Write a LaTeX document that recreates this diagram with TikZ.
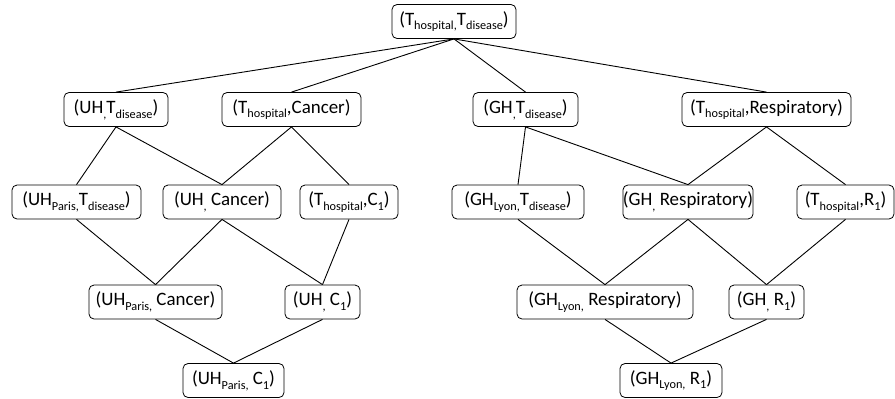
\documentclass[tikz,border=0pt]{standalone}
\usepackage{fontspec}
\setmainfont{Carlito}
\newcommand\sbs[1]{\raisebox{-0.25em}{\fontsize{12.3}{12}\selectfont #1}}
\begin{document}
\begin{tikzpicture}[x=1bp,y=-1bp,
  box/.style={draw, rounded corners=5bp, minimum height=34bp, inner sep=0pt, line width=0.8bp,
    font=\fontsize{19}{21}\selectfont},
  edge/.style={line width=0.9bp}]
\useasboundingbox (0,0) rectangle (895,398);
% level 0
\node[box, minimum width=124bp] (top) at (454,21.5) {(T\sbs{hospital,}T\sbs{disease})};
% level 1
\node[box, minimum width=104bp] (uht) at (116,109.5) {(UH\sbs{,}T\sbs{disease})};
\node[box, minimum width=139bp] (thc) at (291.5,109.5) {(T\sbs{hospital},Cancer)};
\node[box, minimum width=105bp] (ght) at (525.5,109.5) {(GH\sbs{,}T\sbs{disease})};
\node[box, minimum width=169bp] (thr) at (766.5,109.5) {(T\sbs{hospital},Respiratory)};
% level 2
\node[box, minimum width=129bp] (uhpt) at (76.5,202) {(UH\sbs{Paris,}T\sbs{disease})};
\node[box, minimum width=118bp] (uhc) at (222,202) {(UH\sbs{,} Cancer)};
\node[box, minimum width=98bp] (thc1) at (349,202) {(T\sbs{hospital},C\sbs{1})};
\node[box, minimum width=132bp] (ghlt) at (518,202) {(GH\sbs{Lyon,}T\sbs{disease})};
\node[box, minimum width=128bp] (ghr) at (688,202) {(GH\sbs{,} Respiratory)};
\node[box, minimum width=97bp] (thr1) at (845.5,202) {(T\sbs{hospital},R\sbs{1})};
% level 3
\node[box, minimum width=133bp] (uhpc) at (155.5,302) {(UH\sbs{Paris,} Cancer)};
\node[box, minimum width=75bp] (uhc1) at (322.5,302) {(UH\sbs{,} C\sbs{1})};
\node[box, minimum width=176bp] (ghlr) at (605,302) {(GH\sbs{Lyon,} Respiratory)};
\node[box, minimum width=75bp] (ghr1) at (766.5,302) {(GH\sbs{,} R\sbs{1})};
% level 4
\node[box, minimum width=101bp] (uhpc1) at (233.5,380.5) {(UH\sbs{Paris,} C\sbs{1})};
\node[box, minimum width=102bp] (ghlr1) at (671,380.5) {(GH\sbs{Lyon,} R\sbs{1})};
% edges
\foreach \c in {uht,thc,ght,thr} \draw[edge] (top.south) -- (\c.north);
\draw[edge] (uht.south) -- (uhpt.north);
\draw[edge] (uht.south) -- (uhc.north);
\draw[edge] (thc.south) -- (uhc.north);
\draw[edge] (thc.south) -- (thc1.north);
\draw[edge] (uhpt.south) -- (uhpc.north);
\draw[edge] (uhc.south) -- (uhpc.north);
\draw[edge] (uhc.south) -- (uhc1.north);
\draw[edge] (thc1.south) -- (uhc1.north);
\draw[edge] (uhpc.south) -- (uhpc1.north);
\draw[edge] (uhc1.south) -- (uhpc1.north);
\draw[edge] (ght.south) -- (ghlt.north);
\draw[edge] (ght.south) -- (ghr.north);
\draw[edge] (thr.south) -- (ghr.north);
\draw[edge] (thr.south) -- (thr1.north);
\draw[edge] (ghlt.south) -- (ghlr.north);
\draw[edge] (ghr.south) -- (ghlr.north);
\draw[edge] (ghr.south) -- (ghr1.north);
\draw[edge] (thr1.south) -- (ghr1.north);
\draw[edge] (ghlr.south) -- (ghlr1.north);
\draw[edge] (ghr1.south) -- (ghlr1.north);
\end{tikzpicture}
\end{document}
